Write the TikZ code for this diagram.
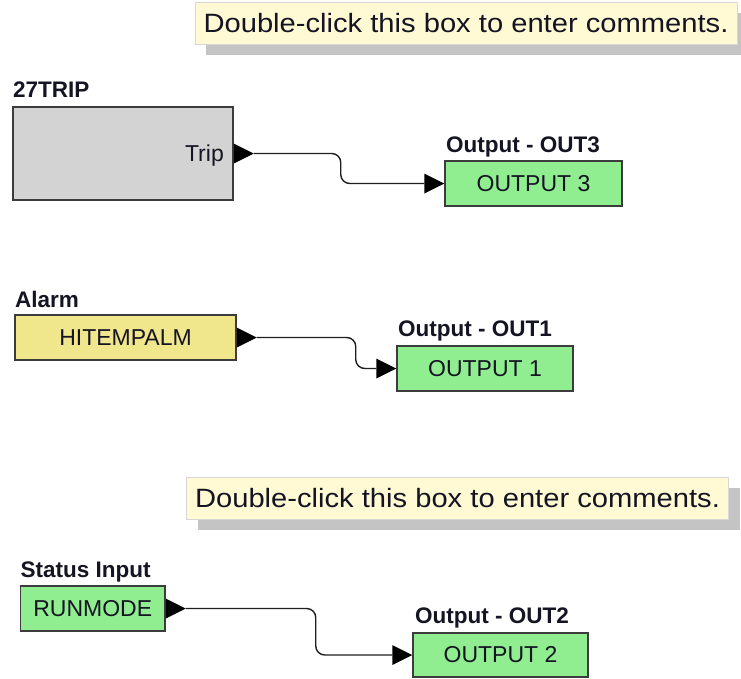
\documentclass[tikz,border=0pt]{standalone}
\usepackage{fontspec}
\setmainfont{Liberation Sans}
\usetikzlibrary{shadows}
\definecolor{boxline}{RGB}{60,60,60}
\definecolor{txt}{RGB}{20,20,35}
\definecolor{cmtfill}{RGB}{255,250,212}
\definecolor{cmtline}{RGB}{215,215,215}
\definecolor{shade}{RGB}{196,196,196}
\definecolor{wirec}{RGB}{30,30,30}
\definecolor{grayfill}{RGB}{211,211,211}
\definecolor{greenfill}{RGB}{144,238,144}
\definecolor{khakifill}{RGB}{240,230,140}
\begin{document}
\begin{tikzpicture}[x=1pt,y=-1pt,
  blk/.style={draw=boxline,line width=1.5pt,inner sep=0pt,minimum height=45pt,text=txt,font=\fontsize{23}{23}\selectfont},
  lbl/.style={anchor=base west,inner sep=0pt,text=txt,font=\bfseries\fontsize{22.5}{22.5}\selectfont},
  cmt/.style={draw=cmtline,line width=1pt,fill=cmtfill,minimum width=542pt,minimum height=42pt,inner sep=0pt,text=txt,
    font=\fontsize{26.5}{26.5}\selectfont,general shadow={fill=shade,shadow xshift=11pt,shadow yshift=-11pt}},
  wire/.style={draw=wirec,line width=1.4pt,rounded corners=9pt},
  tri/.style={fill=black,draw=none}]
\useasboundingbox (0,0) rectangle (741,678);

% comments
\node[cmt] (c1) at (466,23) {\scalebox{1.1}[1]{Double-click this box to enter comments.}};
\node[cmt] (c2) at (457.5,498) {\scalebox{1.1}[1]{Double-click this box to enter comments.}};

% section 1
\node[lbl] (l1) at (13,97) {27TRIP};
\node[blk,fill=grayfill,minimum width=220pt,minimum height=93pt] (trip) at (123,153.5) {};
\node[anchor=base east,inner sep=0pt,text=txt,font=\fontsize{23}{23}\selectfont] (triptxt) at (224,161) {Trip};
\node[lbl] (l3) at (446,152) {Output - OUT3};
\node[blk,fill=greenfill,minimum width=177pt] (o3) at (533.5,183.5) {OUTPUT 3};

% section 2
\node[lbl] (l2) at (15,307) {Alarm};
\node[blk,fill=khakifill,minimum width=221pt] (hi) at (125.5,337.5) {HITEMPALM};
\node[lbl] (l4) at (398,336) {Output - OUT1};
\node[blk,fill=greenfill,minimum width=176pt] (o1) at (485,368.5) {OUTPUT 1};

% section 3
\node[lbl] (l5) at (20.5,577) {Status Input};
\node[blk,fill=greenfill,minimum width=144.5pt] (run) at (92.75,608.5) {RUNMODE};
\node[lbl] (l6) at (415,623) {Output - OUT2};
\node[blk,fill=greenfill,minimum width=175pt,minimum height=44pt] (o2) at (500.5,655) {OUTPUT 2};

% output ports
\foreach \b/\p in {trip/tp,hi/hp,run/rp}{
  \fill[tri] (\b.east) ++(0,-10) -- ++(20,10) -- ++(-20,10) -- cycle;
  \path (\b.east) ++(20,0) coordinate (\p);
}
% input arrows
\foreach \b/\p in {o3/i3,o1/i1,o2/i2}{
  \fill[tri] (\b.west) -- ++(-20,-10) -- ++(0,20) -- cycle;
  \path (\b.west) ++(-20,0) coordinate (\p);
}

% wires
\draw[wire] (tp) -- ++(87,0) |- (i3);
\draw[wire] (hp) -- ++(99,0) |- (i1);
\draw[wire] (rp) -- ++(130,0) |- (i2);
\end{tikzpicture}
\end{document}
